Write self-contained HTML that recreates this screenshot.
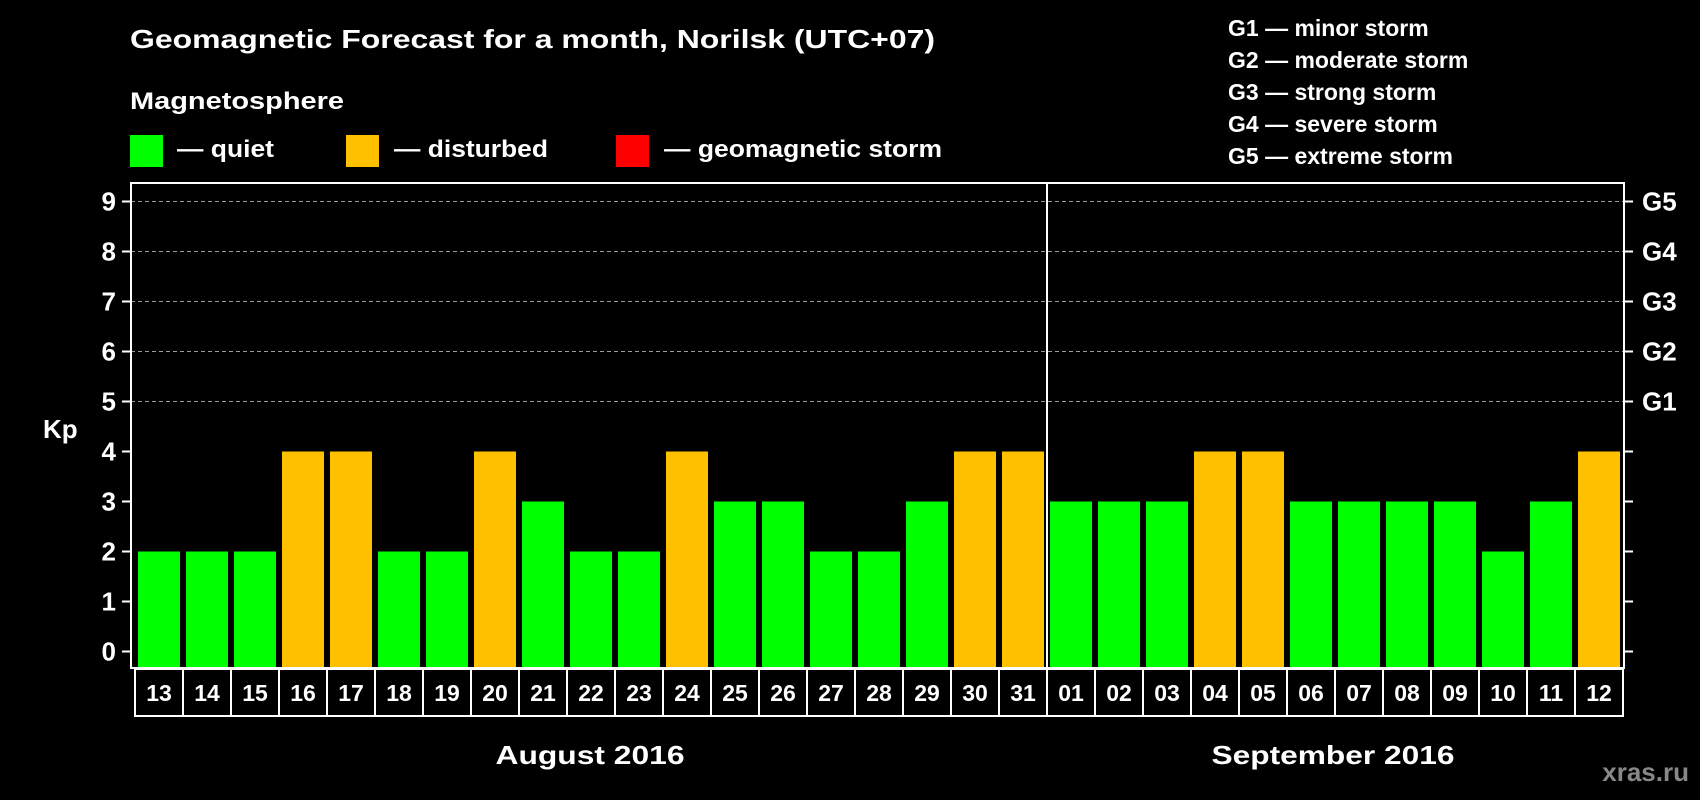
<!DOCTYPE html>
<html><head><meta charset="utf-8"><style>
html,body{margin:0;padding:0;background:#000;}
svg{display:block;font-family:"Liberation Sans",Arial,sans-serif;font-weight:bold;}
</style></head><body>
<svg id="chart" width="1700" height="800" viewBox="0 0 1700 800">
<rect width="1700" height="800" fill="#000"/>
<text x="130" y="48" fill="#fff" font-size="26" textLength="805" lengthAdjust="spacingAndGlyphs">Geomagnetic Forecast for a month, Norilsk (UTC+07)</text>
<text x="130" y="109" fill="#fff" font-size="24" textLength="214" lengthAdjust="spacingAndGlyphs">Magnetosphere</text>
<rect x="130" y="135" width="33" height="32" fill="#00ff00"/>
<text x="177" y="157" fill="#fff" font-size="24" textLength="97" lengthAdjust="spacingAndGlyphs">— quiet</text>
<rect x="346" y="135" width="33" height="32" fill="#ffc000"/>
<text x="394" y="157" fill="#fff" font-size="24" textLength="154" lengthAdjust="spacingAndGlyphs">— disturbed</text>
<rect x="616" y="135" width="33" height="32" fill="#ff0000"/>
<text x="664" y="157" fill="#fff" font-size="24" textLength="278" lengthAdjust="spacingAndGlyphs">— geomagnetic storm</text>
<g fill="#fff" font-size="23">
<text x="1228" y="36">G1 — minor storm</text>
<text x="1228" y="68">G2 — moderate storm</text>
<text x="1228" y="100">G3 — strong storm</text>
<text x="1228" y="132">G4 — severe storm</text>
<text x="1228" y="164">G5 — extreme storm</text>
</g>
<text x="43" y="438" fill="#fff" font-size="26">Kp</text>
<text x="590" y="764" fill="#fff" font-size="26" text-anchor="middle" textLength="189" lengthAdjust="spacingAndGlyphs">August 2016</text>
<text x="1333" y="764" fill="#fff" font-size="26" text-anchor="middle" textLength="243" lengthAdjust="spacingAndGlyphs">September 2016</text>
<text x="1689" y="781" fill="#888" font-size="26" text-anchor="end">xras.ru</text>
<g id="plot"></g>
</svg>
<script>
const days = ["13","14","15","16","17","18","19","20","21","22","23","24","25","26","27","28","29","30","31","01","02","03","04","05","06","07","08","09","10","11","12"];
const kp = [2,2,2,4,4,2,2,4,3,2,2,4,3,3,2,2,3,4,4,3,3,3,4,4,3,3,3,3,2,3,4];
const yTicks = [0,1,2,3,4,5,6,7,8,9];
const gLabels = ["G1","G2","G3","G4","G5"];
const gLevels = [5,6,7,8,9];
const monthBreakIndex = 19;

const NS = "http://www.w3.org/2000/svg";
const plot = document.getElementById("plot");
const L = 131, R = 1624, T = 183, B = 668;
const y0 = 651.5, yUnit = 50;
const x0 = 138, pitch = 48, bw = 42;
function yS(v){ return y0 - v * yUnit; }
function xS(i){ return x0 + i * pitch; }
function mk(tag, attrs){ const e = document.createElementNS(NS, tag); for (const k in attrs) e.setAttribute(k, attrs[k]); plot.appendChild(e); return e; }

gLevels.forEach(v => {
  const g = mk("line", {x1:L, x2:R, y1:yS(v), y2:yS(v), stroke:"#999", "stroke-width":1, "stroke-dasharray":"4,3"});
  
  
});
yTicks.forEach(v => {
  const t = mk("line", {x1:122, x2:L, y1:yS(v), y2:yS(v), stroke:"#fff", "stroke-width":2});
  
  
  const t2 = mk("line", {x1:R, x2:R+9, y1:yS(v), y2:yS(v), stroke:"#fff", "stroke-width":2});
  
  
  const lb = mk("text", {x:116, y:yS(v)+9, fill:"#fff", "font-size":26, "text-anchor":"end"});
  lb.textContent = v;
  
  
});
gLabels.forEach((g, i) => {
  const lb = mk("text", {x:1642, y:yS(gLevels[i])+9, fill:"#fff", "font-size":26});
  lb.textContent = g;
  
  
});
kp.forEach((v, i) => {
  const b = mk("rect", {x:xS(i), y:yS(v), width:bw, height:B - yS(v), fill: v >= 5 ? "#ff0000" : (v >= 4 ? "#ffc000" : "#00ff00")});
  
  
  const box = mk("rect", {x:xS(i)-3, y:669, width:pitch, height:47, fill:"none", stroke:"#fff", "stroke-width":2});
  
  
  const d = mk("text", {x:xS(i)+bw/2, y:701, fill:"#fff", "font-size":23, "text-anchor":"middle"});
  d.textContent = days[i];
  
  
});
const sep = mk("line", {x1:xS(monthBreakIndex)-3, x2:xS(monthBreakIndex)-3, y1:T, y2:B, stroke:"#fff", "stroke-width":2});


const frame = mk("rect", {x:L, y:T, width:R-L, height:B-T, fill:"none", stroke:"#fff", "stroke-width":2});


</script>
</body></html>
